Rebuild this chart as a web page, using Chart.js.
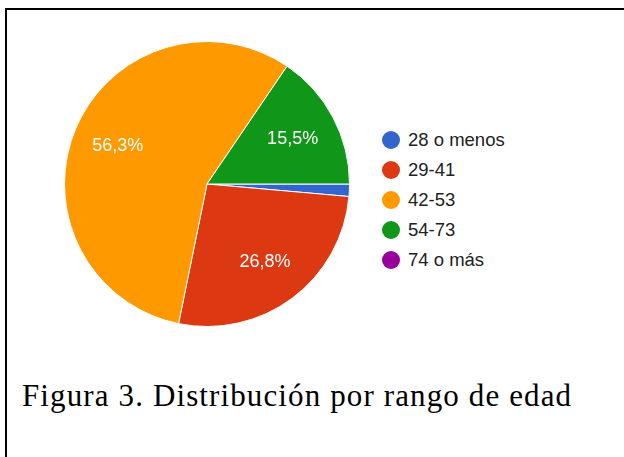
<!DOCTYPE html>
<html>
<head>
<meta charset="utf-8">
<script src="https://cdn.jsdelivr.net/npm/chart.js@4.4.1/dist/chart.umd.min.js"></script>
<style>
  html, body { margin: 0; padding: 0; background: #fff; }
  body { width: 624px; height: 457px; position: relative; overflow: hidden; }
  #frame {
    position: absolute; left: 5px; top: 8px; width: 700px; height: 500px;
    border-top: 2px solid #000; border-left: 2px solid #000;
  }
  #pieBox { position: absolute; left: 57px; top: 34px; width: 300px; height: 300px; }
  #legend { position: absolute; left: 382px; top: 125px; font-family: "Liberation Sans", Arial, sans-serif; font-size: 18.5px; color: #222; }
  #legend .row { height: 30px; display: flex; align-items: center; }
  #legend .dot { width: 18px; height: 18px; border-radius: 50%; margin-right: 8px; }
  #caption {
    position: absolute; left: 22px; top: 380px; white-space: nowrap;
    font-family: "Liberation Serif", "Times New Roman", serif; font-size: 31px; line-height: 31px; color: #000;
  }
</style>
</head>
<body>
<div id="frame"></div>
<div id="pieBox"><canvas id="agePie"></canvas></div>
<div id="legend"></div>
<div id="caption">Figura 3. Distribución por rango de edad</div>

<script>
// ---------- DATA ----------
const ageRanges = ["28 o menos", "29-41", "42-53", "54-73", "74 o más"];
const agePercent = [1.4, 26.8, 56.3, 15.5, 0];
const sliceColors = ["#3366CC", "#DC3912", "#FF9900", "#109618", "#990099"];

// ---------- SLICE LABELS ----------
const sliceLabels = {
  id: "sliceLabels",
  afterDatasetsDraw(chart) {
    const ctx = chart.ctx;
    const meta = chart.getDatasetMeta(0);
    ctx.save();
    ctx.font = "18px 'Liberation Sans', Arial, sans-serif";
    ctx.fillStyle = "#ffffff";
    ctx.textAlign = "center";
    ctx.textBaseline = "middle";
    meta.data.forEach((arc, i) => {
      const v = agePercent[i];
      if (v < 5) return;
      const p = arc.getProps(["x", "y", "startAngle", "endAngle", "outerRadius"], true);
      const mid = (p.startAngle + p.endAngle) / 2;
      const r = p.outerRadius * 0.68;
      ctx.fillText(v.toFixed(1).replace(".", ",") + "%", p.x + Math.cos(mid) * r, p.y + Math.sin(mid) * r);
    });
    ctx.restore();
  }
};

// ---------- CHART ----------
const pieChart = new Chart(document.getElementById("agePie").getContext("2d"), {
  type: "pie",
  data: {
    labels: ageRanges,
    datasets: [{
      data: agePercent,
      backgroundColor: sliceColors,
      borderColor: "#ffffff",
      borderWidth: 1
    }]
  },
  options: {
    responsive: true,
    maintainAspectRatio: false,
    animation: false,
    rotation: 90,
    layout: { padding: 7 },
    plugins: {
      legend: { display: false },
      tooltip: { enabled: false }
    }
  },
  plugins: [sliceLabels]
});

// ---------- LEGEND ----------
const legendBox = document.getElementById("legend");
Chart.overrides.pie.plugins.legend.labels.generateLabels(pieChart).forEach(item => {
  const row = document.createElement("div");
  row.className = "row";
  const dot = document.createElement("span");
  dot.className = "dot";
  dot.style.background = item.fillStyle;
  const txt = document.createElement("span");
  txt.innerText = item.text;
  row.appendChild(dot);
  row.appendChild(txt);
  legendBox.appendChild(row);
});

// caption spans about 550px in the original, spread the letters a bit
const caption = document.getElementById("caption");
const w = caption.getBoundingClientRect().width;
const chars = caption.textContent.length;
caption.style.letterSpacing = ((550 - w) / chars).toFixed(2) + "px";
</script>
</body>
</html>
